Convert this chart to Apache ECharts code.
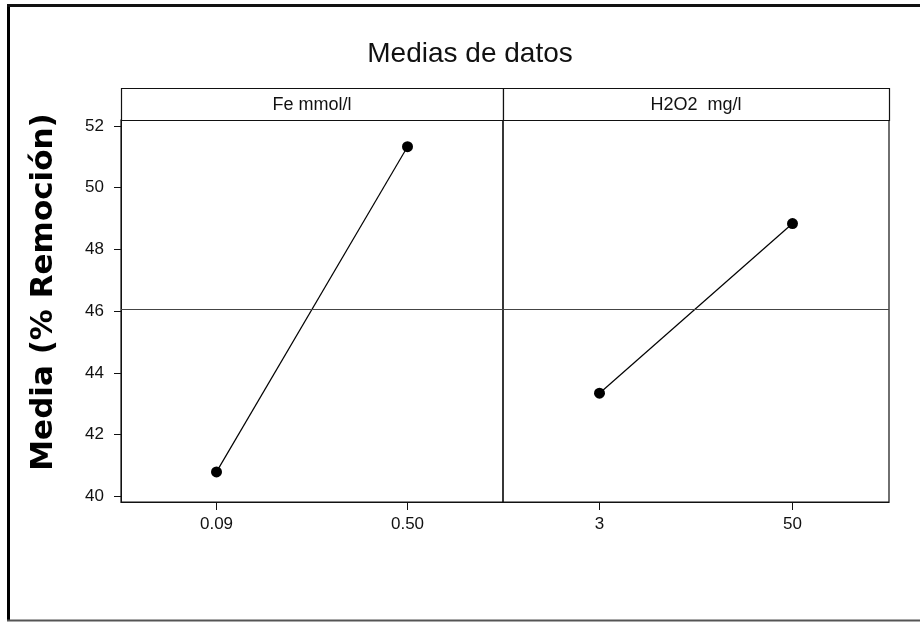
<!DOCTYPE html>
<html>
<head>
<meta charset="utf-8">
<script src="https://cdn.jsdelivr.net/npm/echarts@6/dist/echarts.min.js"></script>
<style>
  html, body { margin: 0; padding: 0; background: #fff; }
  #chart { width: 920px; height: 622px; }
</style>
</head>
<body>
<div id="chart"></div>
<script>
// Main effects: mean % removal at each level of the two factors
const feLevels = ['0.09', '0.50'];
const feMeans = [40.79, 51.33];
const h2o2Levels = ['3', '50'];
const h2o2Means = [43.34, 48.84];
const grandMean = 46.06;
const yTicks = [40, 42, 44, 46, 48, 50, 52];
const panelTitles = ['Fe mmol/l', 'H2O2  mg/l'];
const chartTitle = 'Medias de datos';
const yTitle = 'Media (% Remoción)';

const FONT = '"Liberation Sans", Arial, sans-serif';
const yMin = 39.815, yMax = 52.195;

// panel geometry
const plotTop = 120, plotH = 382, stripTop = 88;
const panels = [
  { left: 121, width: 382 },
  { left: 503, width: 386 }
];

const chart = echarts.init(document.getElementById('chart'));

function xAxisFor(i, cats) {
  return {
    gridIndex: i,
    type: 'category',
    data: cats,
    boundaryGap: true,
    axisLine: { show: true, lineStyle: { color: '#111', width: 1 } },
    axisTick: { show: true, alignWithLabel: true, length: 8, lineStyle: { color: '#111', width: 1 } },
    axisLabel: { color: '#111', fontSize: 17, fontFamily: FONT, margin: 14 },
    splitLine: { show: false }
  };
}

function yAxisFor(i) {
  return {
    gridIndex: i,
    type: 'value',
    min: yMin,
    max: yMax,
    show: i === 0,
    axisLine: { show: true, lineStyle: { color: '#111', width: 1 } },
    axisTick: { show: true, length: 7, customValues: yTicks, lineStyle: { color: '#111', width: 1 } },
    axisLabel: { color: '#111', fontSize: 17, fontFamily: FONT, margin: 17, customValues: yTicks },
    splitLine: { show: false }
  };
}

function seriesFor(i, values) {
  return {
    type: 'line',
    xAxisIndex: i,
    yAxisIndex: i,
    data: values,
    symbol: 'circle',
    symbolSize: 11,
    itemStyle: { color: '#000' },
    lineStyle: { color: '#000', width: 1.2 },
    silent: true,
    animation: false,
    markLine: {
      silent: true,
      symbol: ['none', 'none'],
      label: { show: false },
      lineStyle: { color: '#444', width: 1.2, type: 'solid' },
      data: [{ yAxis: grandMean }]
    }
  };
}

const graphics = [
  // outer frame
  { type: 'line', shape: { x1: 8.5, y1: 4, x2: 8.5, y2: 621 }, style: { stroke: '#000', lineWidth: 3 } },
  { type: 'line', shape: { x1: 7, y1: 5.5, x2: 920, y2: 5.5 }, style: { stroke: '#111', lineWidth: 3 } },
  { type: 'line', shape: { x1: 7, y1: 620.5, x2: 920, y2: 620.5 }, style: { stroke: '#555', lineWidth: 2 } },
  // chart title
  { type: 'text', x: 470, y: 54,
    style: { text: chartTitle, fontSize: 28, fontFamily: FONT, fill: '#111', align: 'center', verticalAlign: 'middle' } },
  // y-axis title
  { type: 'text', x: 44, y: 292, rotation: Math.PI / 2,
    style: { text: yTitle, fontSize: 31, fontWeight: 'bold', fontFamily: '"DejaVu Sans", sans-serif', fill: '#000', align: 'center', verticalAlign: 'middle' } }
];

panels.forEach((p, i) => {
  graphics.push({
    type: 'rect',
    shape: { x: p.left + 0.5, y: stripTop + 0.5, width: p.width, height: plotTop - stripTop },
    style: { fill: '#fff', stroke: '#111', lineWidth: 1.2 }
  });
  graphics.push({
    type: 'text', x: p.left + p.width / 2, y: (stripTop + plotTop) / 2 + 1,
    style: { text: panelTitles[i], fontSize: 18, fontFamily: FONT, fill: '#111', align: 'center', verticalAlign: 'middle' }
  });
});

chart.setOption({
  backgroundColor: '#fff',
  animation: false,
  grid: panels.map(p => ({
    left: p.left, top: plotTop, width: p.width, height: plotH,
    show: true, borderColor: '#111', borderWidth: 1.2, backgroundColor: 'transparent'
  })),
  xAxis: [xAxisFor(0, feLevels), xAxisFor(1, h2o2Levels)],
  yAxis: [yAxisFor(0), yAxisFor(1)],
  series: [seriesFor(0, feMeans), seriesFor(1, h2o2Means)],
  graphic: graphics
});
</script>
</body>
</html>
